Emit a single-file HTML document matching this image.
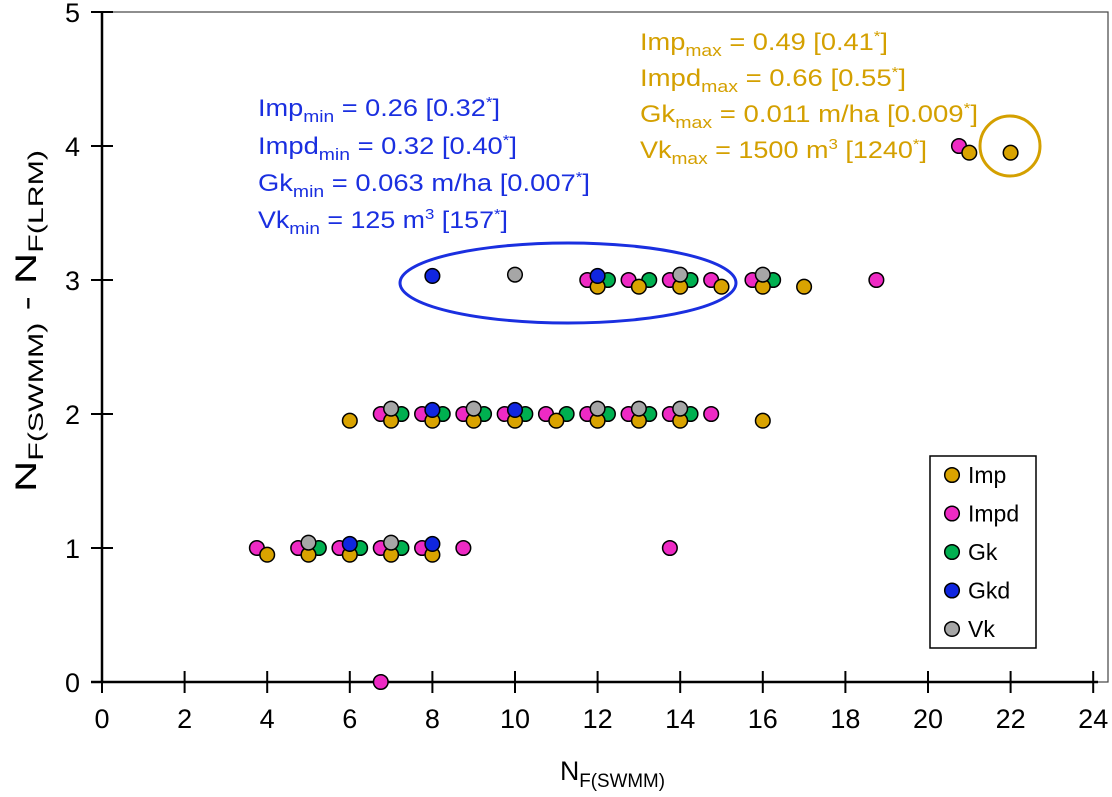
<!DOCTYPE html>
<html><head><meta charset="utf-8"><style>
body{margin:0;background:#fff;}
svg{display:block;font-family:"Liberation Sans",sans-serif;}
</style></head><body>
<svg id="chart" width="1112" height="797" xmlns="http://www.w3.org/2000/svg">
<rect x="102" y="12" width="1006" height="670" fill="none" stroke="#444" stroke-width="1.2"/>
<g id="axes"></g>
<g id="marks"></g>
<ellipse cx="568" cy="283" rx="168" ry="40" fill="none" stroke="#1a2fe0" stroke-width="3"/>
<circle cx="1010" cy="146" r="30" fill="none" stroke="#d4a000" stroke-width="3"/>
<g font-size="24" fill="#1a2fe0">
<text x="258" y="116" textLength="242" lengthAdjust="spacingAndGlyphs">Imp<tspan font-size="17" dy="6">min</tspan><tspan dy="-6"> = 0.26 [0.32</tspan><tspan font-size="15" dy="-9">*</tspan><tspan dy="9">]</tspan></text>
<text x="258" y="154" textLength="259" lengthAdjust="spacingAndGlyphs">Impd<tspan font-size="17" dy="6">min</tspan><tspan dy="-6"> = 0.32 [0.40</tspan><tspan font-size="15" dy="-9">*</tspan><tspan dy="9">]</tspan></text>
<text x="258" y="191" textLength="332" lengthAdjust="spacingAndGlyphs">Gk<tspan font-size="17" dy="6">min</tspan><tspan dy="-6"> = 0.063 m/ha [0.007</tspan><tspan font-size="15" dy="-9">*</tspan><tspan dy="9">]</tspan></text>
<text x="258" y="228" textLength="250" lengthAdjust="spacingAndGlyphs">Vk<tspan font-size="17" dy="6">min</tspan><tspan dy="-6"> = 125 m</tspan><tspan font-size="15" dy="-9">3</tspan><tspan dy="9"> [157</tspan><tspan font-size="15" dy="-9">*</tspan><tspan dy="9">]</tspan></text>
</g>
<g font-size="24" fill="#d4a000">
<text x="640" y="50" textLength="248" lengthAdjust="spacingAndGlyphs">Imp<tspan font-size="17" dy="6">max</tspan><tspan dy="-6"> = 0.49 [0.41</tspan><tspan font-size="15" dy="-9">*</tspan><tspan dy="9">]</tspan></text>
<text x="640" y="86" textLength="266" lengthAdjust="spacingAndGlyphs">Impd<tspan font-size="17" dy="6">max</tspan><tspan dy="-6"> = 0.66 [0.55</tspan><tspan font-size="15" dy="-9">*</tspan><tspan dy="9">]</tspan></text>
<text x="640" y="122" textLength="338" lengthAdjust="spacingAndGlyphs">Gk<tspan font-size="17" dy="6">max</tspan><tspan dy="-6"> = 0.011 m/ha [0.009</tspan><tspan font-size="15" dy="-9">*</tspan><tspan dy="9">]</tspan></text>
<text x="640" y="158" textLength="287" lengthAdjust="spacingAndGlyphs">Vk<tspan font-size="17" dy="6">max</tspan><tspan dy="-6"> = 1500 m</tspan><tspan font-size="15" dy="-9">3</tspan><tspan dy="9"> [1240</tspan><tspan font-size="15" dy="-9">*</tspan><tspan dy="9">]</tspan></text>
</g>
<text x="560" y="780" font-size="27" textLength="105" lengthAdjust="spacingAndGlyphs">N<tspan font-size="19" dy="7">F(SWMM)</tspan></text>
<text transform="translate(36,492) rotate(-90)" font-size="30" textLength="342" lengthAdjust="spacingAndGlyphs">N<tspan font-size="21" dy="7">F(SWMM)</tspan><tspan dy="-7"> - N</tspan><tspan font-size="21" dy="7">F(LRM)</tspan></text>
<g id="legend">
<rect x="930" y="456" width="106" height="192" fill="#fff" stroke="#000" stroke-width="1.5"/>
</g>
</svg>
<script>
const impX=[4,5,6,7,8, 6,7,8,9,10,11,12,13,14,16, 12,13,14,15,16,17, 21,22];
const impY=[1,1,1,1,1, 2,2,2,2,2,2,2,2,2,2, 3,3,3,3,3,3, 4,4];
const impdX=[6.75, 3.75,4.75,5.75,6.75,7.75,8.75,13.75, 6.75,7.75,8.75,9.75,10.75,11.75,12.75,13.75,14.75, 11.75,12.75,13.75,14.75,15.75,18.75, 20.75];
const impdY=[0, 1,1,1,1,1,1,1, 2,2,2,2,2,2,2,2,2, 3,3,3,3,3,3, 4];
const gkX=[5.25,6.25,7.25, 7.25,8.25,9.25,10.25,11.25,12.25,13.25,14.25, 12.25,13.25,14.25,16.25];
const gkY=[1,1,1, 2,2,2,2,2,2,2,2, 3,3,3,3];
const gkdX=[6,8, 8,10, 8,12];
const gkdY=[1,1, 2,2, 3,3];
const vkX=[5,7, 7,9,12,13,14, 10,14,16];
const vkY=[1,1, 2,2,2,2,2, 3,3,3];
const xTicks=[0,2,4,6,8,10,12,14,16,18,20,22,24];
const yTicks=[0,1,2,3,4,5];
const seriesNames=["Imp","Impd","Gk","Gkd","Vk"];
const colors=["#d9a300","#ee2ac4","#00b050","#1026e0","#a6a6a6"];
const NS="http://www.w3.org/2000/svg";
const sx=v=>102+v*41.3;
const sy=v=>682-v*134;
const axes=document.getElementById('axes');
function mk(tag,attrs,parent){const e=document.createElementNS(NS,tag);for(const k in attrs)e.setAttribute(k,attrs[k]);parent.appendChild(e);return e;}
const yl=mk('line',{x1:102,y1:12,x2:102,y2:682,stroke:'#000','stroke-width':2.5},axes);


const xl=mk('line',{x1:91,y1:682,x2:1098,y2:682,stroke:'#000','stroke-width':2.5},axes);


xTicks.forEach(t=>{
 const l=mk('line',{x1:sx(t),x2:sx(t),y1:671,y2:693,stroke:'#000','stroke-width':2},axes);
 
 
 const tx=mk('text',{x:sx(t),y:728,'font-size':27,'text-anchor':'middle'},axes);tx.textContent=t;
 
 
});
yTicks.forEach(t=>{
 const l=mk('line',{x1:91,x2:113,y1:sy(t),y2:sy(t),stroke:'#000','stroke-width':2},axes);
 
 
 const tx=mk('text',{x:80,y:sy(t)+10,'font-size':27,'text-anchor':'end'},axes);tx.textContent=t;
 
 
});
const marks=document.getElementById('marks');
const data=[[impX,impY,-0.05],[impdX,impdY,0],[gkX,gkY,0],[gkdX,gkdY,0.03],[vkX,vkY,0.04]];
const order=[1,2,0,3,4];
order.forEach(i=>{
 const [xs,ys,dy]=data[i];
 xs.forEach((x,j)=>{
  const c=mk('circle',{cx:sx(x),cy:sy(ys[j]+dy),r:7.3,fill:colors[i],stroke:'#000','stroke-width':1.5},marks);
  
  
 });
});
const lg=document.getElementById('legend');
seriesNames.forEach((n,i)=>{
 const y=475+i*38.5;
 const c=mk('circle',{cx:952,cy:y,r:7.3,fill:colors[i],stroke:'#000','stroke-width':1.5},lg);
 
 
 const t=mk('text',{x:968,y:y+8,'font-size':23},lg);t.textContent=n;
 
 
});
</script>
</body></html>
